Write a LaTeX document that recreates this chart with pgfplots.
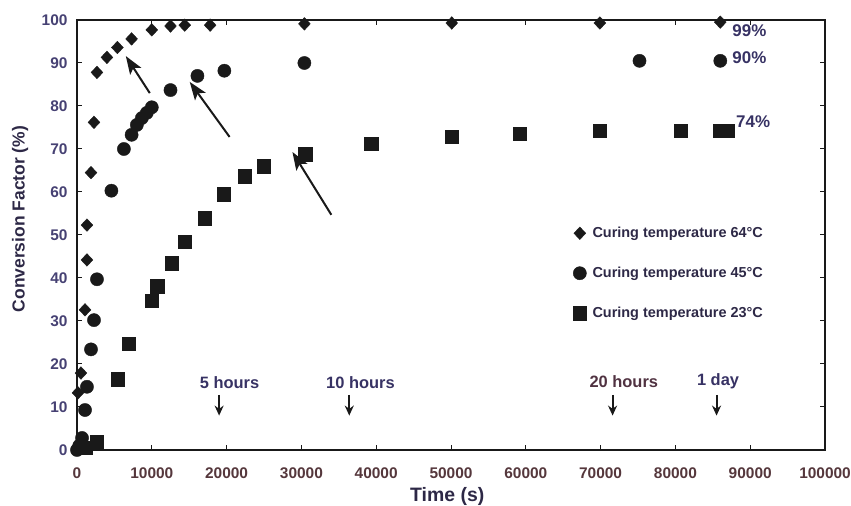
\documentclass[border=0pt]{standalone}
\usepackage{fontspec}
\setmainfont{Liberation Sans}
\usepackage{pgfplots}
\pgfplotsset{compat=1.18}
\usetikzlibrary{arrows.meta}
\definecolor{ytick}{RGB}{70,65,115}
\definecolor{xtick}{RGB}{85,55,60}
\definecolor{annb}{RGB}{55,50,100}
\definecolor{annr}{RGB}{80,50,65}
\definecolor{ink}{RGB}{25,25,25}
\definecolor{lab}{RGB}{45,40,70}
\begin{document}
\begin{tikzpicture}[x=1bp,y=1bp]
\path[use as bounding box] (0,0) rectangle (851,506);
\begin{axis}[
  at={(77bp,56bp)}, anchor=south west,
  scale only axis, width=748bp, height=430bp,
  xmin=0, xmax=100000, ymin=0, ymax=100,
  xtick={0,10000,...,100000}, ytick={0,10,...,100},
  scaled x ticks=false,
  /pgf/number format/assume math mode=true,
  xticklabel={\pgfmathprintnumber[fixed,precision=0,1000 sep={}]{\tick}},
  tick align=inside, major tick length=5bp,
  tick style={ink, line width=1bp},
  axis line style={ink, line width=1.2bp},
  xticklabel style={font=\fontsize{15.5}{18}\selectfont\bfseries, color=xtick, anchor=base, yshift=-29bp},
  yticklabel style={font=\fontsize{15.5}{18}\selectfont\bfseries, color=ytick, anchor=east, xshift=-6bp},
  xlabel={Time (s)}, ylabel={Conversion Factor (\%)},
  xlabel style={font=\fontsize{19.5}{22}\selectfont\bfseries, color=lab, at={(axis description cs:0.495,-0.109)}, anchor=center},
  ylabel style={font=\fontsize{17.5}{20}\selectfont\bfseries, color=lab, at={(axis description cs:-0.076,0.537)}, anchor=center},
  legend style={draw=none, fill=none, at={(axis cs:66300,52.3)}, anchor=north west,
    font=\fontsize{14.5}{17}\selectfont\bfseries, text=lab, row sep=24bp,
    inner sep=0pt, column sep=4bp},
  legend cell align=left,
  legend image code/.code={\draw[#1] plot coordinates {(0bp,0bp)};},
  clip=false,
]
\addplot[only marks, mark=diamond*, mark size=6.3bp, color=ink, mark options={xscale=1.25}] coordinates {
(130,13.3) (530,17.9) (1070,32.6) (1330,44.2) (1330,52.3) (1870,64.5) (2270,76.2)
(2670,87.8) (4000,91.3) (5400,93.6) (7300,95.6) (10000,97.7) (12500,98.6)
(14400,98.8) (17800,98.8) (30400,99.1) (50100,99.3) (69900,99.3) (86000,99.5)
};
\addlegendentry{Curing temperature 64°C}
\addplot[only marks, mark=*, mark size=6.6bp, color=ink] coordinates {
(0,0) (300,1.0) (670,2.8) (1070,9.3) (1330,14.7) (1870,23.4) (2270,30.2) (2670,39.7)
(4600,60.3) (6270,70.0) (7300,73.3) (8000,75.6) (8670,77.2) (9330,78.4) (10000,79.7)
(12500,83.7) (16100,87.0) (19700,88.2) (30400,90.0) (75200,90.5) (86000,90.5)
};
\addlegendentry{Curing temperature 45°C}
\addplot[only marks, mark=square*, mark size=6.7bp, color=ink] coordinates {
(1200,0.5) (2670,1.9) (5470,16.5) (6930,24.7) (10000,34.7) (10700,38.1) (12670,43.4)
(14400,48.4) (17070,53.9) (19600,59.5) (22400,63.7) (24930,66.0) (30530,68.8)
(39330,71.2) (50130,72.8) (59200,73.5) (69870,74.2) (80670,74.2) (86000,74.2) (86930,74.2)
};
\addlegendentry{Curing temperature 23°C}
% long arrows
\draw[ink, line width=2bp, -{Stealth[length=18bp,width=13bp,inset=4bp]}] (axis cs:9730,83) -- (axis cs:6530,91.6);
\draw[ink, line width=2bp, -{Stealth[length=18bp,width=13bp,inset=4bp]}] (axis cs:20400,72.8) -- (axis cs:15070,85.6);
\draw[ink, line width=2bp, -{Stealth[length=18bp,width=13bp,inset=4bp]}] (axis cs:34000,54.7) -- (axis cs:28800,69.3);
% percent labels
\node[anchor=west, font=\fontsize{17}{20}\selectfont\bfseries, color=annb, inner sep=0pt] at (axis cs:87600,97.6) {99\%};
\node[anchor=west, font=\fontsize{17}{20}\selectfont\bfseries, color=annb, inner sep=0pt] at (axis cs:87600,91.2) {90\%};
\node[anchor=west, font=\fontsize{17}{20}\selectfont\bfseries, color=annb, inner sep=0pt] at (axis cs:88100,76.3) {74\%};
% time markers
\node[font=\fontsize{16.5}{19}\selectfont\bfseries, color=annb, inner sep=0pt] at (axis cs:20400,15.7) {5 hours};
\draw[ink, line width=2bp, -{Stealth[length=10bp,width=9bp]}] (axis cs:19000,12.8) -- (axis cs:19000,8.0);
\node[font=\fontsize{16.5}{19}\selectfont\bfseries, color=annb, inner sep=0pt] at (axis cs:37900,15.7) {10 hours};
\draw[ink, line width=2bp, -{Stealth[length=10bp,width=9bp]}] (axis cs:36400,12.8) -- (axis cs:36400,8.0);
\node[font=\fontsize{16.5}{19}\selectfont\bfseries, color=annr, inner sep=0pt] at (axis cs:73100,15.9) {20 hours};
\draw[ink, line width=2bp, -{Stealth[length=10bp,width=9bp]}] (axis cs:71600,12.8) -- (axis cs:71600,8.0);
\node[font=\fontsize{16.5}{19}\selectfont\bfseries, color=annb, inner sep=0pt] at (axis cs:85700,15.9) {1 day};
\draw[ink, line width=2bp, -{Stealth[length=10bp,width=9bp]}] (axis cs:85500,12.8) -- (axis cs:85500,8.0);
\end{axis}
\end{tikzpicture}
\end{document}
